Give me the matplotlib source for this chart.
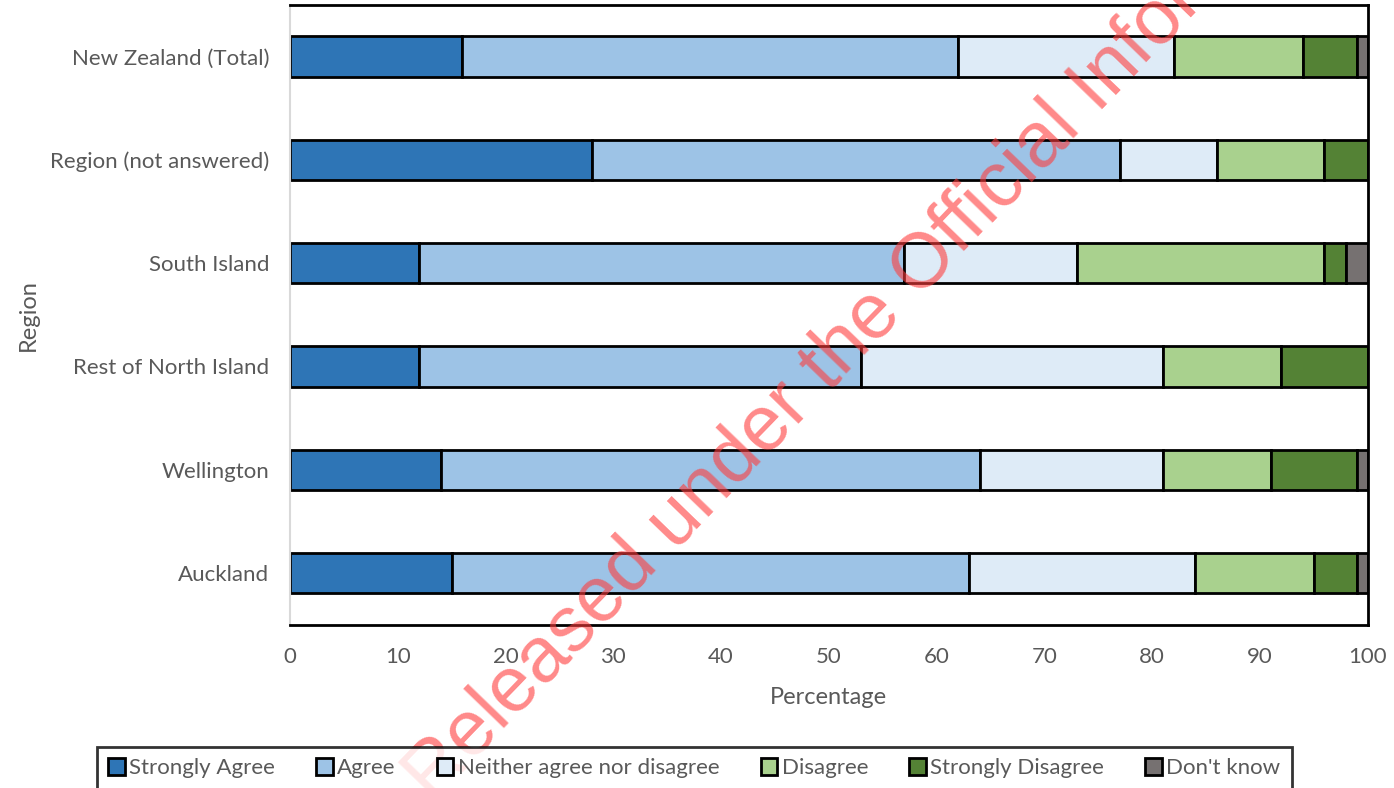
import matplotlib.pyplot as plt
import numpy as np

# survey responses by region (percent)
regions = ['Auckland', 'Wellington', 'Rest of North Island', 'South Island',
           'Region (not answered)', 'New Zealand (Total)']
strongly_agree = [15, 14, 12, 12, 28, 16]
agree = [48, 50, 41, 45, 49, 46]
neither = [21, 17, 28, 16, 9, 20]
disagree = [11, 10, 11, 23, 10, 12]
strongly_disagree = [4, 8, 8, 2, 4, 5]
dont_know = [1, 1, 0, 2, 0, 1]

labels = ['Strongly Agree', 'Agree', 'Neither agree nor disagree', 'Disagree',
          'Strongly Disagree', "Don't know"]
colors = ['#2E75B6', '#9DC3E6', '#DEEBF7', '#A9D18E', '#548235', '#767171']

plt.rcParams['font.family'] = ['Lato', 'DejaVu Sans']

fig = plt.figure(figsize=(13.94, 7.88), dpi=100)
ax = fig.add_axes([0.208, 0.207, 0.773, 0.787])

series = [strongly_agree, agree, neither, disagree, strongly_disagree, dont_know]
y = np.arange(len(regions))
left = np.zeros(len(regions))
for vals, lab, col in zip(series, labels, colors):
    ax.barh(y, vals, left=left, height=0.39, color=col, edgecolor='black',
            linewidth=2, label=lab)
    left += np.array(vals)

ax.set_xlim(0, 100)
ax.set_ylim(-0.5, 5.5)
ax.set_xticks(range(0, 101, 10))
ax.set_yticks(y)
ax.set_yticklabels(regions)
ax.tick_params(length=0, labelsize=16, colors='#595959')
ax.tick_params(axis='y', pad=15)
ax.tick_params(axis='x', pad=16)
for s in ['top', 'right', 'bottom']:
    ax.spines[s].set_color('black')
    ax.spines[s].set_linewidth(2)
ax.spines['left'].set_color('#d9d9d9')
ax.spines['left'].set_linewidth(1.5)

ax.set_xlabel('Percentage', fontsize=17, color='#595959', labelpad=14)
ax.set_ylabel('Region', fontsize=17, color='#595959', labelpad=8)

leg = fig.legend(loc='lower center', bbox_to_anchor=(0.498, -0.016), ncol=6,
                 fontsize=16, frameon=True, fancybox=False, edgecolor='black',
                 handlelength=0.75, handleheight=0.75, handletextpad=0.2,
                 columnspacing=1.85, borderpad=0.5)
leg.get_frame().set_linewidth(2)
for t in leg.get_texts():
    t.set_color('#595959')

# watermark
fig.text(0.31, -0.02, 'Released under the Official Information Act',
         fontsize=56, color='#ff3b3b', alpha=0.6, rotation=46,
         rotation_mode='anchor', ha='left', va='baseline',
         family=['Liberation Sans', 'DejaVu Sans'])

fig.savefig('out.png', dpi=100)
